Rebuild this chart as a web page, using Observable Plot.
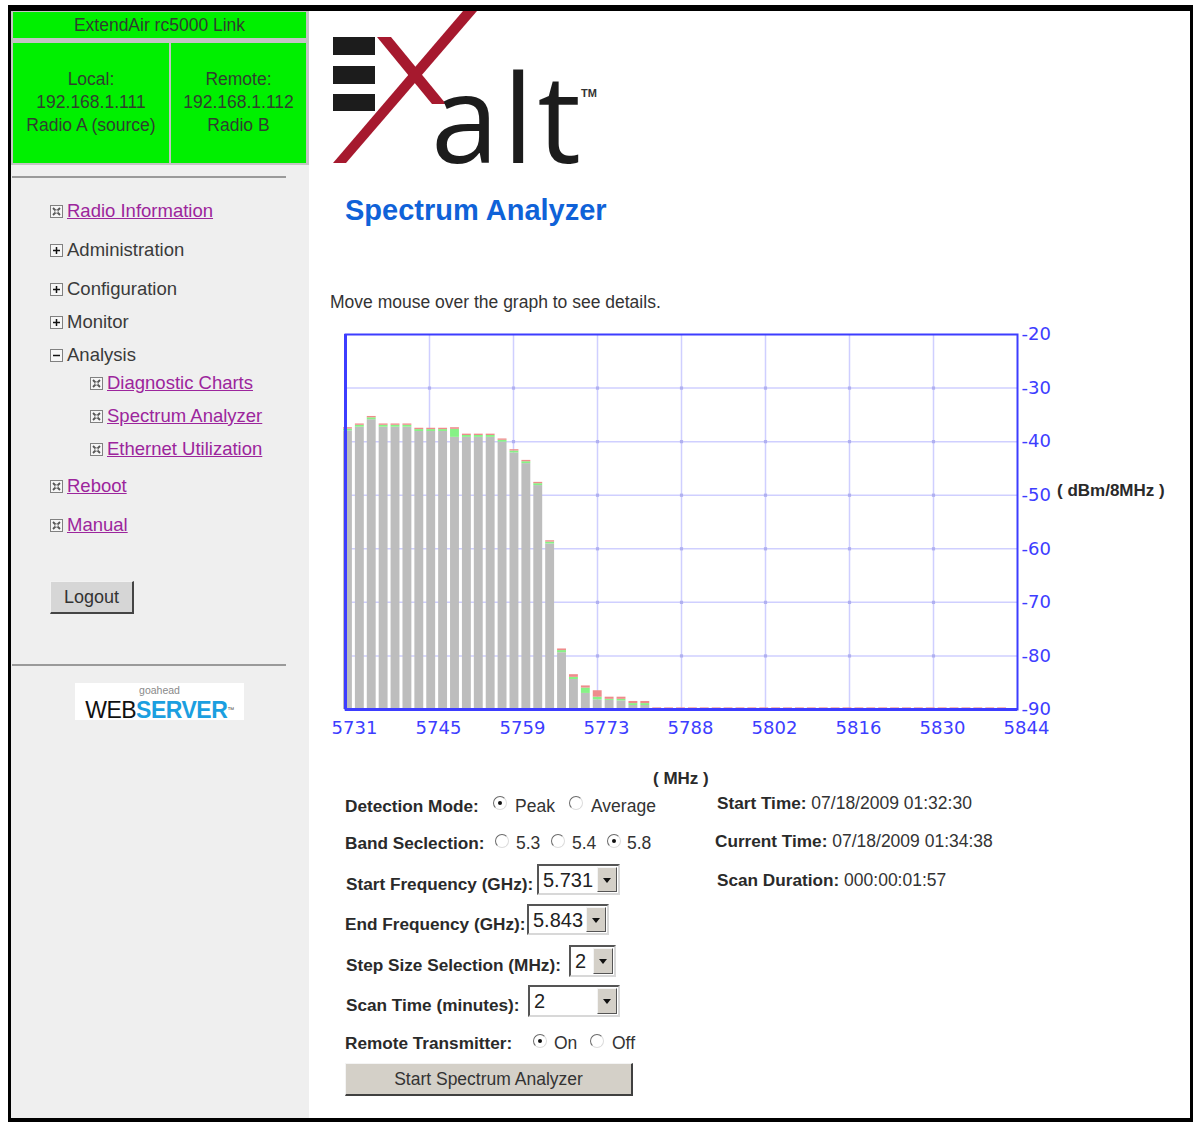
<!DOCTYPE html>
<html><head><meta charset="utf-8">
<script src="https://cdn.jsdelivr.net/npm/d3@7"></script>
<script src="https://cdn.jsdelivr.net/npm/@observablehq/plot@0.6"></script>
<style>
html,body{margin:0;padding:0;background:#fff;}
body{width:1195px;height:1123px;position:relative;overflow:hidden;font-family:"Liberation Sans",Arial,sans-serif;color:#333;}
.abs{position:absolute;}
.t{position:absolute;white-space:nowrap;line-height:20px;font-size:17.5px;color:#333;}
.b{font-weight:bold;color:#2a2a2a;font-size:17.2px;}
.nav{position:absolute;white-space:nowrap;line-height:22px;font-size:18.5px;color:#3a3a3a;}
.nav a{color:#9c259c;text-decoration:underline;}
.ico{position:absolute;width:13px;height:13px;}
.green{position:absolute;background:#00f000;color:#2f3f2f;font-size:17.5px;text-align:center;line-height:23px;}
.radio{position:absolute;width:14px;height:14px;border-radius:50%;background:#fff;border:1.5px solid;border-color:#6a6a6a #dcdcdc #dcdcdc #6a6a6a;box-sizing:border-box;}
.radio.on::after{content:"";position:absolute;left:3.5px;top:3.5px;width:4px;height:4px;border-radius:50%;background:#111;}
.sel{position:absolute;background:#fff;box-sizing:border-box;border:2px solid;border-color:#555 #d8d8d8 #d8d8d8 #555;}
.sel .v{position:absolute;left:4px;top:2px;font-size:20px;line-height:24px;color:#222;}
.sel .btn{position:absolute;right:1px;top:1px;bottom:1px;width:20px;background:#d4d0c8;border:1px solid;border-color:#f4f4f4 #555 #555 #f4f4f4;box-sizing:border-box;}
.sel .btn::after{content:"";position:absolute;left:5px;top:10px;border-left:4px solid transparent;border-right:4px solid transparent;border-top:5px solid #111;}
</style></head>
<body>
<!-- page frame -->
<div class="abs" style="left:8px;top:5px;width:1185px;height:1117px;box-sizing:border-box;border-top:6px solid #000;border-left:3px solid #000;border-right:3px solid #000;border-bottom:4px solid #000;"></div>
<div class="abs" style="left:11px;top:11px;width:298px;height:1107px;background:#efefef;"></div>
<!-- green status block -->
<div class="abs" style="left:11px;top:11px;width:298px;height:154px;background:#c4c4c4;"></div>
<div class="green" style="left:13px;top:12px;width:293px;height:26px;line-height:26px;">ExtendAir rc5000 Link</div>
<div class="green" style="left:13px;top:43px;width:156px;height:120px;"><div style="padding-top:25px">Local:<br>192.168.1.111<br>Radio A (source)</div></div>
<div class="green" style="left:171px;top:43px;width:135px;height:120px;"><div style="padding-top:25px">Remote:<br>192.168.1.112<br>Radio B</div></div>
<div class="abs" style="left:12px;top:176px;width:274px;height:2px;background:#9a9a9a;"></div>
<div class="abs" style="left:12px;top:664px;width:274px;height:2px;background:#9a9a9a;"></div>

<div id="nav"></div>

<div class="abs" style="left:50px;top:581px;width:84px;height:33px;box-sizing:border-box;background:#d6d6d6;border:1px solid;border-color:#f2f2f2 #444 #444 #f2f2f2;border-width:1px 2px 2px 1px;font-size:18px;line-height:30px;text-align:center;color:#333;">Logout</div>

<div class="abs" style="left:75px;top:683px;width:169px;height:37px;background:#fff;"></div>
<div class="abs" style="left:75px;top:685px;width:169px;text-align:center;font-size:10.5px;line-height:11px;color:#8a8a8a;">goahead</div>
<div class="abs" style="left:75px;top:699px;width:169px;text-align:center;font-size:23px;line-height:22px;letter-spacing:-0.5px;white-space:nowrap;"><span style="color:#111;">WEB</span><span style="color:#1b9fe0;font-weight:bold;">SERVER</span><span style="font-size:7px;vertical-align:top;color:#555;">™</span></div>

<!-- logo -->
<svg class="abs" style="left:310px;top:0px" width="320" height="215" viewBox="310 0 320 215">
  <rect x="333" y="37" width="42" height="18" fill="#1c1c1c"/>
  <rect x="333" y="66" width="42" height="18" fill="#1c1c1c"/>
  <rect x="333" y="94" width="42" height="17" fill="#1c1c1c"/>
  <polygon points="377,37 391,37 446,104 432,104" fill="#a6192e"/>
  <text x="431" y="163" font-family="Open Sans" font-size="122" fill="#1c1c1c">a<tspan dx="4">l</tspan><tspan dx="4">t</tspan></text>
  <polygon points="463,11 477,11 346,163 333,163" fill="#a6192e"/>
  <text x="581" y="97" font-family="Liberation Sans" font-weight="bold" font-size="11" fill="#333">TM</text>
</svg>
<div class="abs" style="left:8px;top:5px;width:1185px;height:6px;background:#000;"></div>

<div class="abs" style="left:345px;top:193px;font-size:29px;line-height:34px;font-weight:bold;color:#0f62d8;white-space:nowrap;">Spectrum Analyzer</div>
<div class="t" style="left:330px;top:292px;">Move mouse over the graph to see details.</div>

<div id="chart" class="abs" style="left:300px;top:314px;"></div>
<div class="t b" style="left:1057px;top:481px;font-size:17px;">( dBm/8MHz )</div>
<div class="t b" style="left:653px;top:769px;font-size:17px;">( MHz )</div>

<!-- form -->
<div class="t b" style="left:345px;top:796px;">Detection Mode:</div>
<div class="radio on" style="left:493px;top:796px;"></div><div class="t" style="left:515px;top:796px;">Peak</div>
<div class="radio" style="left:569px;top:796px;"></div><div class="t" style="left:591px;top:796px;">Average</div>

<div class="t b" style="left:345px;top:833px;">Band Seclection:</div>
<div class="radio" style="left:495px;top:834px;"></div><div class="t" style="left:516px;top:833px;">5.3</div>
<div class="radio" style="left:551px;top:834px;"></div><div class="t" style="left:572px;top:833px;">5.4</div>
<div class="radio on" style="left:607px;top:834px;"></div><div class="t" style="left:627px;top:833px;">5.8</div>

<div class="t b" style="left:346px;top:874px;">Start Frequency (GHz):</div>
<div class="sel" style="left:537px;top:864px;width:83px;height:31px;"><span class="v">5.731</span><span class="btn"></span></div>
<div class="t b" style="left:345px;top:914px;">End Frequency (GHz):</div>
<div class="sel" style="left:527px;top:904px;width:82px;height:31px;"><span class="v">5.843</span><span class="btn"></span></div>
<div class="t b" style="left:346px;top:955px;">Step Size Selection (MHz):</div>
<div class="sel" style="left:569px;top:945px;width:47px;height:32px;"><span class="v">2</span><span class="btn"></span></div>
<div class="t b" style="left:346px;top:995px;">Scan Time (minutes):</div>
<div class="sel" style="left:528px;top:985px;width:92px;height:32px;"><span class="v">2</span><span class="btn"></span></div>

<div class="t b" style="left:345px;top:1033px;">Remote Transmitter:</div>
<div class="radio on" style="left:533px;top:1034px;"></div><div class="t" style="left:554px;top:1033px;">On</div>
<div class="radio" style="left:590px;top:1034px;"></div><div class="t" style="left:612px;top:1033px;">Off</div>

<div class="abs" style="left:345px;top:1063px;width:288px;height:33px;box-sizing:border-box;background:#d4d0c8;border-style:solid;border-color:#f4f4f4 #404040 #404040 #f4f4f4;border-width:1px 2px 2px 1px;font-size:17.5px;line-height:30px;text-align:center;color:#333;">Start Spectrum Analyzer</div>

<div class="t" style="left:717px;top:793px;"><b class="b">Start Time:</b> 07/18/2009 01:32:30</div>
<div class="t" style="left:715px;top:831px;"><b class="b">Current Time:</b> 07/18/2009 01:34:38</div>
<div class="t" style="left:717px;top:870px;"><b class="b">Scan Duration:</b> 000:00:01:57</div>

<script>
// ---------- sidebar navigation ----------
const navItems = [
  {label:"Radio Information", icon:"x", link:true, x:50, y:211},
  {label:"Administration", icon:"plus", link:false, x:50, y:250},
  {label:"Configuration", icon:"plus", link:false, x:50, y:289},
  {label:"Monitor", icon:"plus", link:false, x:50, y:322},
  {label:"Analysis", icon:"minus", link:false, x:50, y:355},
  {label:"Diagnostic Charts", icon:"x", link:true, x:90, y:383},
  {label:"Spectrum Analyzer", icon:"x", link:true, x:90, y:416},
  {label:"Ethernet Utilization", icon:"x", link:true, x:90, y:449},
  {label:"Reboot", icon:"x", link:true, x:50, y:486},
  {label:"Manual", icon:"x", link:true, x:50, y:525}
];
function iconSvg(kind){
  let inner = "";
  if (kind === "x") inner = '<path d="M3 3 L10 10 M10 3 L3 10" stroke="#555" stroke-width="1.8"/><rect x="5" y="5" width="3" height="3" fill="#fff" stroke="#777" stroke-width="0.8"/>';
  if (kind === "plus") inner = '<path d="M3 6.5 H10 M6.5 3 V10" stroke="#111" stroke-width="1.5"/>';
  if (kind === "minus") inner = '<path d="M3 6.5 H10" stroke="#111" stroke-width="1.5"/>';
  return '<svg width="13" height="13"><rect x="0.5" y="0.5" width="12" height="12" fill="#f6f6f6" stroke="#808080"/>' + inner + '</svg>';
}
const nav = document.getElementById("nav");
for (const it of navItems) {
  const ic = document.createElement("div");
  ic.className = "ico"; ic.style.left = it.x + "px"; ic.style.top = (it.y - 7) + "px";
  ic.innerHTML = iconSvg(it.icon);
  nav.appendChild(ic);
  const tx = document.createElement("div");
  tx.className = "nav"; tx.style.left = (it.x + 17) + "px"; tx.style.top = (it.y - 11) + "px";
  tx.innerHTML = it.link ? '<a>' + it.label + '</a>' : it.label;
  nav.appendChild(tx);
}

// ---------- chart data ----------
const freqs = [5731,5733,5735,5737,5739,5741,5743,5745,5747,5749,5751,5753,5755,5757,5759,5761,5763,5765,5767,5769,5771,5773,5775,5777,5779,5781,5783,5785,5787,5789,5791,5793,5795,5797,5799,5801,5803,5805,5807,5809,5811,5813,5815,5817,5819,5821,5823,5825,5827,5829,5831,5833,5835,5837,5839,5841];
const peakDbm = [-37.4,-36.7,-35.3,-36.7,-36.7,-36.7,-37.5,-37.5,-37.5,-37.4,-38.6,-38.6,-38.6,-39.5,-41.5,-43.5,-47.6,-58.5,-78.7,-83.5,-85.6,-86.5,-87.7,-87.7,-88.5,-88.5,
  -89.7,-89.7,-89.7,-89.7,-89.7,-89.7,-89.7,-89.7,-89.7,-89.7,-89.7,-89.7,-89.7,-89.7,-89.7,-89.7,-89.7,-89.7,-89.7,-89.7,-89.7,-89.7,-89.7,-89.7,-89.7,-89.7,-89.7,-89.7,-89.7,-89.7];
const midDbm = [-37.65,-36.95,-35.55,-36.95,-36.95,-36.95,-37.75,-37.75,-37.75,-37.7,-38.85,-38.85,-38.85,-39.75,-41.75,-43.75,-47.85,-58.75,-79.0,-84.0,-86.0,-87.7,-88.1,-88.1,-88.9,-88.9,
  -90,-90,-90,-90,-90,-90,-90,-90,-90,-90,-90,-90,-90,-90,-90,-90,-90,-90,-90,-90,-90,-90,-90,-90,-90,-90,-90,-90,-90,-90];
const baseDbm = [-38.0,-37.3,-35.9,-37.3,-37.3,-37.3,-38.1,-38.1,-38.1,-39.2,-39.2,-39.2,-39.2,-40.1,-42.1,-44.1,-48.2,-59.1,-79.4,-84.4,-87.0,-88.2,-88.3,-88.4,-89.25,-89.25,
  -90,-90,-90,-90,-90,-90,-90,-90,-90,-90,-90,-90,-90,-90,-90,-90,-90,-90,-90,-90,-90,-90,-90,-90,-90,-90,-90,-90,-90,-90];
const yTicks = [-20,-30,-40,-50,-60,-70,-80,-90];
const xTickLabels = ["5731","5745","5759","5773","5788","5802","5816","5830","5844"];
const stepMHz = 2;

// ---------- derived ----------
const floorDbm = d3.min(yTicks), topDbm = d3.max(yTicks);
const xMin = +xTickLabels[0], xMax = +xTickLabels[xTickLabels.length - 1];
const nIntervals = xTickLabels.length - 1;
const xTickPos = xTickLabels.map((_, i) => xMin + i * (xMax - xMin) / nIntervals);
const xGrid = xTickPos.slice(1, -1);
const yGrid = yTicks.filter(v => v !== floorDbm && v !== topDbm);
const rows = freqs.map((f, i) => ({f, base: baseDbm[i], mid: midDbm[i], peak: peakDbm[i]}));
const blue = "#3d3dff";
const barOpts = {x1: "f", x2: d => d.f + stepMHz, insetLeft: -2, insetRight: 5};

const chart = Plot.plot({
  width: 780, height: 440,
  marginLeft: 45, marginRight: 63, marginTop: 20, marginBottom: 45,
  x: {domain: [xMin, xMax]},
  y: {domain: [floorDbm, topDbm]},
  style: {fontFamily: "DejaVu Sans, Verdana, sans-serif", fontSize: "18px", background: "transparent", overflow: "visible"},
  marks: [
    Plot.gridY(yGrid, {stroke: "#cfcfff", strokeOpacity: 1, strokeWidth: 1.5}),
    Plot.gridX(xGrid, {stroke: "#cfcfff", strokeOpacity: 1, strokeWidth: 1.5}),
    Plot.dot(d3.cross(xGrid, yGrid), {x: d => d[0], y: d => d[1], symbol: "square", r: 1.8, fill: "#b0b0f0"}),
    Plot.rectY(rows, {...barOpts, y1: floorDbm, y2: "base", fill: "#bdbdbd"}),
    Plot.rectY(rows, {...barOpts, y1: "base", y2: "mid", fill: "#86f286"}),
    Plot.rectY(rows, {...barOpts, y1: "mid", y2: "peak", fill: "#ee8c8c"}),
    Plot.frame({stroke: blue, strokeWidth: 2}),
    Plot.ruleX([xMin], {stroke: blue, strokeWidth: 3}),
    Plot.ruleY([floorDbm], {stroke: blue, strokeWidth: 3}),
    Plot.axisY(yTicks, {anchor: "right", tickSize: 0, tickPadding: 4, fontSize: 18, color: blue, label: null, tickFormat: d => String(d)}),
    Plot.axisX(xTickPos, {anchor: "bottom", tickSize: 0, tickPadding: 12, fontSize: 18, color: blue, label: null, dx: 9,
      tickFormat: d => xTickLabels[xTickPos.indexOf(d)]})
  ]
});
document.getElementById("chart").appendChild(chart);
</script>
</body></html>
